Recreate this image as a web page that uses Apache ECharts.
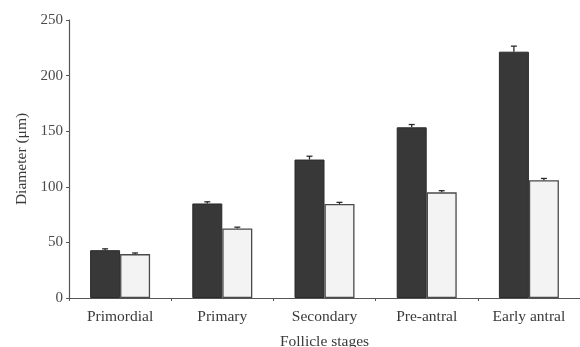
<!DOCTYPE html>
<html>
<head>
<meta charset="utf-8">
<script src="https://cdn.jsdelivr.net/npm/echarts@6/dist/echarts.min.js"></script>
<style>html,body{margin:0;padding:0;background:#fff}#c{width:580px;height:347px}</style>
</head>
<body>
<div id="c"></div>
<script>
var categories = ['Primordial', 'Primary', 'Secondary', 'Pre-antral', 'Early antral'];
var darkValues = [43, 85, 124.5, 153.5, 221.5];
var darkErrors = [1.2, 1.5, 3, 2.5, 5];
var lightValues = [39.5, 62.5, 84.5, 95, 106];
var lightErrors = [1, 1.2, 1.5, 1.5, 1.5];
var yTicks = [0, 50, 100, 150, 200, 250];

var BAR_W = 30;
function errSeries(vals, errs, side) {
  return {
    type: 'custom',
    z: 5,
    data: vals.map(function (v, i) { return [i, v, errs[i]]; }),
    renderItem: function (params, api) {
      var i = api.value(0), v = api.value(1), e = api.value(2);
      var base = api.coord([i, v]);
      var top = api.coord([i, v + e]);
      var x = base[0] + side * BAR_W / 2;
      var st = { stroke: '#2a2a2a', lineWidth: 1.3 };
      return { type: 'group', children: [
        { type: 'line', shape: { x1: x, y1: base[1], x2: x, y2: top[1] }, style: st },
        { type: 'line', shape: { x1: x - 3, y1: top[1], x2: x + 3, y2: top[1] }, style: st }
      ]};
    }
  };
}

var chart = echarts.init(document.getElementById('c'));
chart.setOption({
  animation: false,
  grid: { left: 69, right: 0, top: 20, bottom: 49, containLabel: false, outerBoundsMode: 'none' },
  textStyle: { fontFamily: 'Liberation Serif' },
  xAxis: {
    type: 'category',
    data: categories,
    name: 'Follicle stages',
    nameLocation: 'middle',
    nameGap: 36,
    nameTextStyle: { fontFamily: 'Liberation Serif', fontSize: 15.5, color: '#3a3a3a' },
    axisLine: { lineStyle: { color: '#555', width: 1.2 } },
    axisTick: { show: true, length: 3, lineStyle: { color: '#555' } },
    axisLabel: { fontFamily: 'Liberation Serif', fontSize: 15.5, color: '#3a3a3a', margin: 11 }
  },
  yAxis: {
    type: 'value',
    min: 0, max: 250, interval: 50,
    name: 'Diameter (μm)',
    nameLocation: 'middle',
    nameGap: 38,
    nameTextStyle: { fontFamily: 'Liberation Serif', fontSize: 15.5, color: '#3a3a3a' },
    axisLine: { show: true, lineStyle: { color: '#555', width: 1.2 } },
    axisTick: { show: true, length: 3, lineStyle: { color: '#555' } },
    axisLabel: { fontFamily: 'Liberation Serif', fontSize: 15, color: '#4a4a4a', margin: 6,
      formatter: function (v) { return yTicks.indexOf(v) >= 0 ? String(v) : ''; } },
    splitLine: { show: false }
  },
  series: [
    { type: 'bar', data: darkValues, barWidth: BAR_W, barGap: '0%',
      itemStyle: { color: '#383838', borderColor: '#2a2a2a', borderWidth: 1 } },
    { type: 'bar', data: lightValues, barWidth: BAR_W, barGap: '0%',
      itemStyle: { color: '#f3f3f3', borderColor: '#4a4a4a', borderWidth: 1.3 } },
    errSeries(darkValues, darkErrors, -1),
    errSeries(lightValues, lightErrors, 1)
  ]
});
</script>
</body>
</html>
